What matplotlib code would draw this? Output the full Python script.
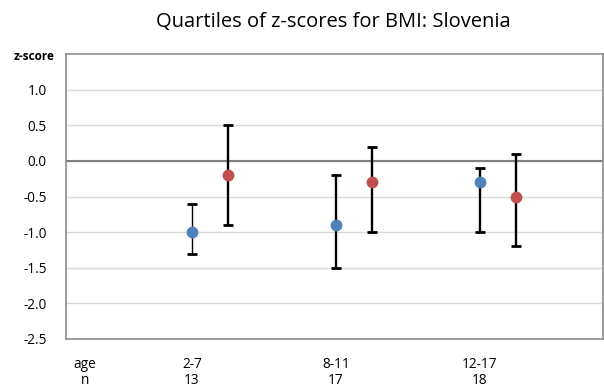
import numpy as np
import matplotlib.pyplot as plt

plt.rcParams['font.family'] = ['Open Sans', 'DejaVu Sans']

ages = ['2-7', '8-11', '12-17']
counts = ['13', '17', '18']

# blue series (median, lower quartile, upper quartile)
blue_med = [-1.0, -0.9, -0.3]
blue_q1 = [-1.3, -1.5, -1.0]
blue_q3 = [-0.6, -0.2, -0.1]

# red series
red_med = [-0.2, -0.3, -0.5]
red_q1 = [-0.9, -1.0, -1.2]
red_q3 = [0.5, 0.2, 0.1]

yticks = [-2.5, -2.0, -1.5, -1.0, -0.5, 0.0, 0.5, 1.0]

fig = plt.figure(figsize=(6.04, 3.90), dpi=100)
ax = fig.add_axes([66/604, 1-339/390, 537/604, 285/390])

pos = np.arange(1, len(ages) + 1)
bx = pos - 0.125
rx = pos + 0.125

def draw(xs, med, q1, q3, color, widths):
    med = np.array(med)
    lo = med - np.array(q1)
    hi = np.array(q3) - med
    for i in range(len(xs)):
        ax.errorbar(xs[i], med[i], yerr=[[lo[i]], [hi[i]]], fmt='none',
                    ecolor='black', elinewidth=widths[i], capsize=3.8,
                    capthick=2, zorder=3)
    ax.plot(xs, med, 'o', color=color, markersize=7.5, zorder=4)

draw(bx, blue_med, blue_q1, blue_q3, '#4F81BD', [1.0, 1.7, 1.7])
draw(rx, red_med, red_q1, red_q3, '#C0504D', [1.7, 1.7, 1.7])

ax.set_xlim(0, 3.73)
ax.set_ylim(-2.5, 1.5)
ax.set_yticks(yticks)
ax.set_yticklabels([f'{v:.1f}' for v in yticks], fontsize=9.8)
ax.set_xticks([])
ax.tick_params(axis='y', length=0, pad=14)
for v in yticks[1:]:
    ax.axhline(v, color='#d9d9d9', lw=1, zorder=1)
ax.axhline(0, color='#808080', lw=1.5, zorder=2)
for s in ax.spines.values():
    s.set_color('#8c8c8c')
    s.set_linewidth(1.2)

fig.text(55/604, 1-57/390, 'z-score', ha='right', va='center',
         fontsize=8.5, fontweight='bold')
fig.text(85/604, 1-365/390, 'age', ha='center', va='center', fontsize=9.8)
fig.text(85/604, 1-381/390, 'n', ha='center', va='center', fontsize=9.8)
for i, (a, n) in enumerate(zip(ages, counts)):
    xf = ax.transData.transform((bx[i], 0))[0]
    fig.text(xf/604, 1-365/390, a, ha='center', va='center', fontsize=9.8)
    fig.text(xf/604, 1-381/390, n, ha='center', va='center', fontsize=9.8)

fig.text(333/604, 1-22/390, 'Quartiles of z-scores for BMI: Slovenia',
         ha='center', va='center', fontsize=14.5)

fig.savefig('out.png', dpi=100)
